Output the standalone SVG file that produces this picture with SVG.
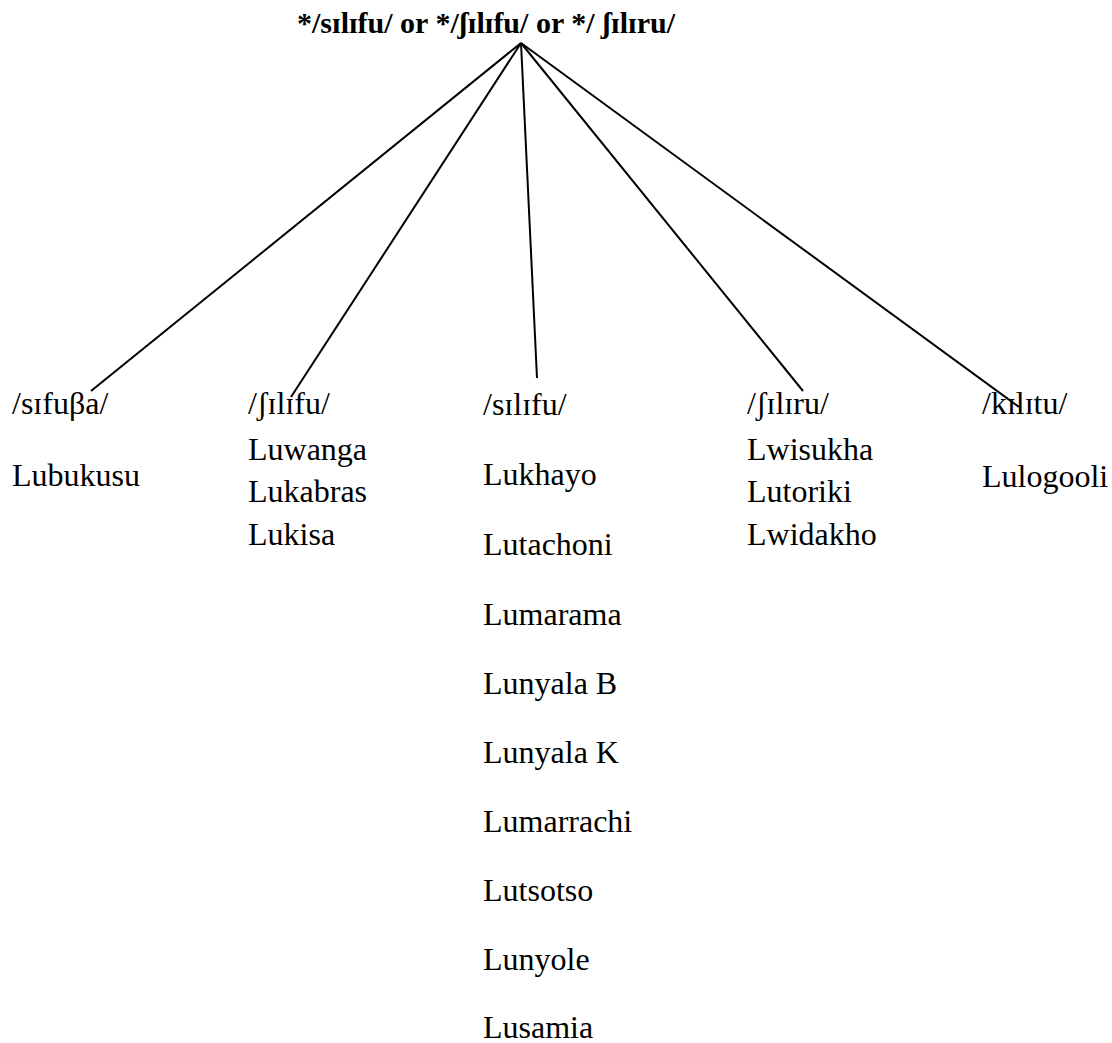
<svg xmlns="http://www.w3.org/2000/svg" width="1112" height="1043" viewBox="0 0 1112 1043">
  <style>
    text { font-family: "Liberation Serif", "Times New Roman", serif; fill: #000; }
    .title { font-size: 30px; font-weight: bold; }
    .lbl { font-size: 32px; }
    .edge { stroke: #000; stroke-width: 2; fill: none; }
  </style>
  <rect width="1112" height="1043" fill="#fff"/>

  <!-- root form -->
  <g id="root">
    <text class="title" x="297" y="33">*/sɪlɪfu/ or */ʃɪlɪfu/ or */ ʃɪlɪru/</text>
  </g>

  <!-- branches from the reconstructed form -->
  <g id="connectors">
    <line class="edge" x1="521" y1="43" x2="91" y2="391"/>
    <line class="edge" x1="521" y1="43" x2="291" y2="397"/>
    <line class="edge" x1="521" y1="43" x2="537" y2="378"/>
    <line class="edge" x1="521" y1="43" x2="803" y2="391"/>
    <line class="edge" x1="521" y1="43" x2="1019" y2="407"/>
  </g>

  <g id="n-sifuba">
    <text class="lbl" x="12" y="414">/sɪfuβa/</text>
    <text class="lbl" x="12" y="486">Lubukusu</text>
  </g>

  <g id="n-shilifu">
    <text class="lbl" x="248" y="414">/ʃɪlɪfu/</text>
    <text class="lbl" x="248" y="460">Luwanga</text>
    <text class="lbl" x="248" y="502">Lukabras</text>
    <text class="lbl" x="248" y="545">Lukisa</text>
  </g>

  <g id="n-silifu">
    <text class="lbl" x="483" y="415">/sɪlɪfu/</text>
    <text class="lbl" x="483" y="485">Lukhayo</text>
    <text class="lbl" x="483" y="555">Lutachoni</text>
    <text class="lbl" x="483" y="625">Lumarama</text>
    <text class="lbl" x="483" y="694">Lunyala B</text>
    <text class="lbl" x="483" y="763">Lunyala K</text>
    <text class="lbl" x="483" y="832">Lumarrachi</text>
    <text class="lbl" x="483" y="901">Lutsotso</text>
    <text class="lbl" x="483" y="970">Lunyole</text>
    <text class="lbl" x="483" y="1038">Lusamia</text>
  </g>

  <g id="n-shiliru">
    <text class="lbl" x="747" y="414">/ʃɪlɪru/</text>
    <text class="lbl" x="747" y="460">Lwisukha</text>
    <text class="lbl" x="747" y="502">Lutoriki</text>
    <text class="lbl" x="747" y="545">Lwidakho</text>
  </g>

  <g id="n-kilitu">
    <text class="lbl" x="982" y="414">/kɪlɪtu/</text>
    <text class="lbl" x="982" y="487">Lulogooli</text>
  </g>
</svg>
